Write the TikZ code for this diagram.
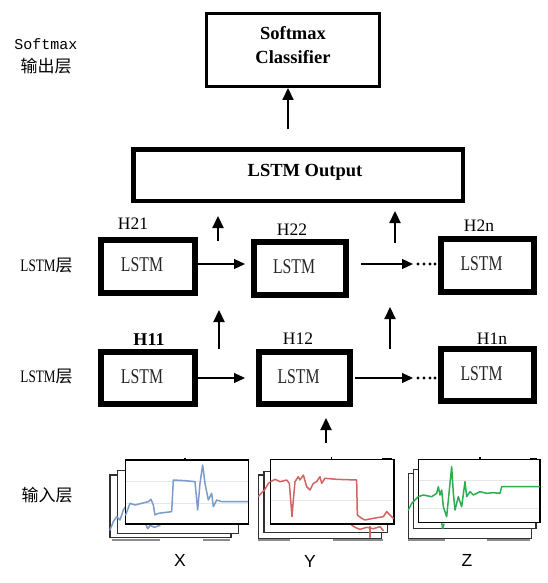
\documentclass[tikz,border=0pt]{standalone}
\usepackage{fontspec}
\setmainfont{Liberation Serif}
\newfontfamily\narrowserif[FakeStretch=0.75]{Liberation Serif}
\newfontfamily\labmono{Liberation Mono}
\newfontfamily\cjkfont{Noto Sans CJK SC}
\newfontfamily\xyzfont{Liberation Sans}
\usetikzlibrary{arrows.meta,calc}
\definecolor{sigblue}{HTML}{7A9CCB}
\definecolor{sigred}{HTML}{D26464}
\definecolor{siggreen}{HTML}{2EAD50}
\definecolor{framegray}{HTML}{303030}
\definecolor{gridgray}{HTML}{E6E6E6}
\definecolor{bargray}{HTML}{8C8C8C}
\definecolor{lstmink}{HTML}{262626}
\begin{document}
\begin{tikzpicture}[x=1pt,y=-1pt,
  lstmbox/.style={draw, line width=6pt, fill=white, minimum width=#1, minimum height=52pt, inner sep=0pt,
    label={[lstmtxt]center:LSTM}},
  lstmtxt/.style={font=\narrowserif\fontsize{21}{21}\selectfont, text=lstmink, xshift=-6pt, yshift=1.5pt},
  hlab/.style={font=\fontsize{17.5}{17.5}\selectfont, inner sep=0pt},
  boldtxt/.style={font=\bfseries\fontsize{18.5}{24}\selectfont},
  sidelab/.style={inner sep=0pt, align=center},
  harr/.style={line width=1.2pt, -{Triangle[length=11pt,width=10pt]}},
  varr/.style={line width=2.2pt, -{Triangle[length=12pt,width=11pt]}},
  dotmark/.style={fill=black},
  frame/.style={draw=framegray, line width=1.2pt, fill=white},
  ffront/.style={draw=black, line width=1.6pt, fill=white},
  bar/.style={draw=bargray, line width=2pt},
  grid/.style={draw=gridgray, line width=0.8pt},
  sig/.style={line width=1.5pt, line join=round, line cap=round},
  xyz/.style={font=\xyzfont\fontsize{17.5}{17.5}\selectfont, inner sep=0pt}]

\fill[white] (0,0) rectangle (547,583);
\useasboundingbox (0,0) rectangle (547,583);

% ---------- side labels ----------
\node[sidelab, font=\labmono\fontsize{15}{15}\selectfont] (lsoft) at (46,44) {Softmax};
\node[sidelab, font=\cjkfont\fontsize{17}{17}\selectfont] (lout) at (46,66) {输出层};
\node[sidelab] (llstm2) at (46.5,266) {{\narrowserif\fontsize{17.5}{17.5}\selectfont LSTM}{\cjkfont\fontsize{17}{17}\selectfont 层}};
\node[sidelab] (llstm1) at (46.5,377) {{\narrowserif\fontsize{17.5}{17.5}\selectfont LSTM}{\cjkfont\fontsize{17}{17}\selectfont 层}};
\node[sidelab, font=\cjkfont\fontsize{17}{17}\selectfont] (lin) at (47,495) {输入层};

% ---------- top boxes ----------
\node[draw, line width=3.3pt, minimum width=172.7pt, minimum height=72.7pt, inner sep=0pt,
  label={[boldtxt, align=center, yshift=5pt]center:Softmax\\Classifier}] (sm) at (293,50) {};
\node[draw, line width=4.5pt, minimum width=329.5pt, minimum height=51.5pt, inner sep=0pt,
  label={[boldtxt, xshift=7pt, yshift=3pt]center:LSTM Output}] (out) at (298,175) {};

\coordinate (topa) at (288,129);
\draw[varr] (topa) -- (sm.south -| topa);

% ---------- H labels (drawn before boxes) ----------
\node[hlab] (lH21) at (133,224) {H21};
\node[hlab] (lH22) at (292,230) {H22};
\node[hlab] (lH2n) at (479,226) {H2n};
\node[hlab, font=\bfseries\fontsize{18}{18}\selectfont] (lH11) at (149,340) {H11};
\node[hlab] (lH12) at (298,339) {H12};
\node[hlab] (lH1n) at (492,339) {H1n};

% ---------- LSTM boxes ----------
\node[lstmbox=94pt, minimum height=53pt] (H21) at (148,266.5) {};
\node[lstmbox=92pt, minimum height=53pt] (H22) at (300,268.5) {};
\node[lstmbox=93pt, minimum height=53pt] (H2n) at (487.5,265.5) {};
\node[lstmbox=94pt] (H11) at (148,378) {};
\node[lstmbox=91pt] (H12) at (304.5,378) {};
\node[lstmbox=93pt] (H1n) at (487.5,375) {};

% ---------- horizontal arrows ----------
\coordinate (row2) at (0,264);
\coordinate (row1) at (0,378);
\draw[harr, shorten >=6pt] (H21.east |- row2) -- (H22.west |- row2);
\draw[harr, shorten <=12pt, shorten >=25pt] (H22.east |- row2) -- (H2n.west |- row2);
\draw[harr, shorten >=11pt] (H11.east |- row1) -- (H12.west |- row1);
\draw[harr, shorten <=2pt, shorten >=25pt] (H12.east |- row1) -- (H1n.west |- row1);
\foreach \dx in {-20,-14,-8,-3}{
  \fill[dotmark] ($(H2n.west |- row2)+(\dx,0)$) circle (1.6pt);
  \fill[dotmark] ($(H1n.west |- row1)+(\dx,0)$) circle (1.6pt);
}

% ---------- vertical arrows ----------
\coordinate (v1a) at (219,349); \coordinate (v1b) at (219,310);
\coordinate (v2a) at (390,349); \coordinate (v2b) at (390,307);
\coordinate (v3a) at (218,241); \coordinate (v3b) at (218,216);
\coordinate (v4a) at (395,243); \coordinate (v4b) at (395,211);
\coordinate (v5a) at (326,443); \coordinate (v5b) at (326,418);
\draw[varr] (v1a) -- (v1b);
\draw[varr] (v2a) -- (v2b);
\draw[varr] (v3a) -- (v3b);
\draw[varr] (v4a) -- (v4b);
\draw[varr] (v5a) -- (v5b);

% ---------- input panels ----------
% X
\begin{scope}[shift={(105,450)}, scale=1/3]
  \draw[frame] (15,75) rectangle (378,262);
  \draw[frame] (38,62) rectangle (400,250);
  \draw[bar] (20,270) -- (165,270);
  \draw[bar] (295,270) -- (375,270);
  \draw[sig, sigblue] (15,240) -- (25,215) -- (35,200) -- (45,210) -- (55,180) -- (62,170);
  \draw[sig, sigblue] (122,222) -- (128,236) -- (136,226) -- (148,232) -- (165,226);
  \draw[ffront] (62,30) rectangle (430,222);
  \draw[grid] (64,94) -- (428,94);
  \draw[grid] (64,160) -- (428,160);
  \draw[black, line width=1.2pt] (240,30) -- (240,24);
  \draw[black, line width=2.2pt] (385,29) -- (410,29);
  \draw[sig, sigblue] (62,195) -- (75,160) -- (90,165) -- (110,160) -- (130,155) -- (138,148) -- (145,165)
     -- (150,195) -- (160,190) -- (175,188) -- (200,185) -- (205,90) -- (240,92) -- (270,95)
     -- (278,180) -- (285,100) -- (293,45) -- (300,100) -- (310,150) -- (320,130) -- (325,170)
     -- (335,150) -- (350,155) -- (380,155) -- (428,155);
\end{scope}
% Y
\begin{scope}[shift={(250,450)}, scale=1/3]
  \draw[frame] (25,75) rectangle (395,265);
  \draw[frame] (42,65) rectangle (412,248);
  \draw[bar] (25,270) -- (120,270);
  \draw[bar] (250,270) -- (400,270);
  \draw[sig, sigred] (25,140) -- (35,128) -- (45,118) -- (55,100) -- (62,95);
  \draw[sig, sigred] (305,225) -- (315,232) -- (330,238) -- (350,232) -- (370,236) -- (390,230) -- (400,242);
  \draw[sig, sigred] (360,230) -- (360,262);
  \draw[ffront] (62,28) rectangle (432,222);
  \draw[grid] (64,150) -- (430,150);
  \draw[black, line width=1.2pt] (245,28) -- (245,22);
  \draw[black, line width=2.2pt] (395,27) -- (425,27);
  \draw[sig, sigred] (62,95) -- (75,88) -- (90,95) -- (110,90) -- (118,100) -- (122,150) -- (126,200)
     -- (130,150) -- (135,95) -- (145,80) -- (150,90) -- (160,75) -- (170,110) -- (180,120)
     -- (190,100) -- (200,95) -- (210,80) -- (215,100) -- (225,85) -- (260,88) -- (320,90)
     -- (322,195) -- (335,205) -- (345,210) -- (370,205) -- (400,200) -- (410,185) -- (420,195) -- (430,205);
\end{scope}
% Z
\begin{scope}[shift={(400,450)}, scale=1/3]
  \draw[frame] (25,70) rectangle (395,265);
  \draw[frame] (40,58) rectangle (408,235);
  \draw[bar] (25,270) -- (135,270);
  \draw[bar] (260,270) -- (390,270);
  \draw[sig, siggreen] (25,180) -- (35,160) -- (45,150) -- (55,140);
  \draw[sig, siggreen] (125,218) -- (128,236) -- (132,222);
  \draw[ffront] (55,28) rectangle (420,218);
  \draw[grid] (57,90) -- (418,90);
  \draw[grid] (57,175) -- (418,175);
  \draw[black, line width=1.2pt] (240,28) -- (240,22);
  \draw[black, line width=2.2pt] (390,27) -- (412,27);
  \draw[sig, siggreen] (55,140) -- (70,135) -- (95,140) -- (110,130) -- (115,110) -- (120,135) -- (125,120)
     -- (130,170) -- (140,200) -- (150,100) -- (155,50) -- (160,130) -- (165,180) -- (175,140)
     -- (185,170) -- (195,95) -- (200,140) -- (210,125) -- (220,135) -- (240,125) -- (260,130)
     -- (280,128) -- (300,130) -- (305,110) -- (360,110) -- (418,110);
\end{scope}

\node[xyz] (lx) at (180,560) {X};
\node[xyz] (ly) at (310,561) {Y};
\node[xyz] (lz) at (467,560) {Z};

\end{tikzpicture}
\end{document}
